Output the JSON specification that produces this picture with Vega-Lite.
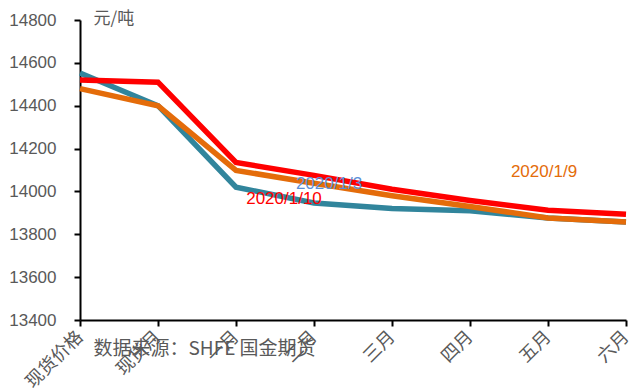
{
  "$schema": "https://vega.github.io/schema/vega-lite/v6.json",
  "width": 546,
  "height": 300,
  "autosize": "none",
  "padding": {"left": 80, "top": 20, "right": 4, "bottom": 72},
  "background": "white",
  "config": {"view": {"stroke": null}, "font": "Liberation Sans, Noto Sans CJK SC"},
  "datasets": {
    "series": [
      {"cat": "现货价格", "s": "2020/1/3", "v": 14553},
      {"cat": "现货月", "s": "2020/1/3", "v": 14400},
      {"cat": "一月", "s": "2020/1/3", "v": 14020},
      {"cat": "二月", "s": "2020/1/3", "v": 13946},
      {"cat": "三月", "s": "2020/1/3", "v": 13920},
      {"cat": "四月", "s": "2020/1/3", "v": 13910},
      {"cat": "五月", "s": "2020/1/3", "v": 13876},
      {"cat": "六月", "s": "2020/1/3", "v": 13857},
      {"cat": "现货价格", "s": "2020/1/9", "v": 14480},
      {"cat": "现货月", "s": "2020/1/9", "v": 14400},
      {"cat": "一月", "s": "2020/1/9", "v": 14098},
      {"cat": "二月", "s": "2020/1/9", "v": 14038},
      {"cat": "三月", "s": "2020/1/9", "v": 13980},
      {"cat": "四月", "s": "2020/1/9", "v": 13930},
      {"cat": "五月", "s": "2020/1/9", "v": 13876},
      {"cat": "六月", "s": "2020/1/9", "v": 13857},
      {"cat": "现货价格", "s": "2020/1/10", "v": 14520},
      {"cat": "现货月", "s": "2020/1/10", "v": 14510},
      {"cat": "一月", "s": "2020/1/10", "v": 14135},
      {"cat": "二月", "s": "2020/1/10", "v": 14075},
      {"cat": "三月", "s": "2020/1/10", "v": 14010},
      {"cat": "四月", "s": "2020/1/10", "v": 13958},
      {"cat": "五月", "s": "2020/1/10", "v": 13912},
      {"cat": "六月", "s": "2020/1/10", "v": 13893}
    ]
  },
  "layer": [
    {
      "data": {"name": "series"},
      "mark": {"type": "line", "strokeWidth": 5.5, "strokeJoin": "miter"},
      "encoding": {
        "x": {
          "field": "cat", "type": "ordinal",
          "sort": ["现货价格", "现货月", "一月", "二月", "三月", "四月", "五月", "六月"],
          "scale": {"type": "point", "padding": 0},
          "axis": {
            "title": "数据来源：SHFE 国金期货",
            "titleX": 13, "titleY": 28, "titleAlign": "left", "titleBaseline": "middle",
            "titleFont": "Noto Sans CJK SC", "titleFontSize": 19, "titleFontWeight": "normal", "titleColor": "#595959",
            "labelAngle": -45, "labelAlign": "right", "labelBaseline": "middle",
            "labelFont": "Noto Sans CJK SC", "labelFontSize": 18, "labelColor": "#595959",
            "labelPadding": 8,
            "domainColor": "black", "domainWidth": 2, "tickColor": "black", "tickWidth": 2, "tickSize": 6, "grid": false
          }
        },
        "y": {
          "field": "v", "type": "quantitative",
          "scale": {"domain": [13400, 14800], "nice": false, "zero": false},
          "axis": {
            "values": [13400, 13600, 13800, 14000, 14200, 14400, 14600, 14800],
            "format": "d",
            "title": "元/吨", "titleAngle": 0, "titleX": 13, "titleY": -10, "titleAlign": "left", "titleBaseline": "top",
            "titleFont": "Noto Sans CJK SC", "titleFontSize": 17, "titleFontWeight": "normal", "titleColor": "#595959",
            "labelFontSize": 17, "labelColor": "#595959", "labelPadding": 18,
            "domainColor": "black", "domainWidth": 2, "tickColor": "black", "tickWidth": 2, "tickSize": 6, "grid": false
          }
        },
        "color": {
          "field": "s", "type": "nominal",
          "scale": {"domain": ["2020/1/3", "2020/1/9", "2020/1/10"], "range": ["#31859C", "#E46C0A", "#FF0000"]},
          "legend": null
        },
        "order": {"field": "s", "sort": "ascending"}
      }
    },
    {
      "data": {"values": [{"cat": "一月", "s": "2020/1/10", "v": 13966}]},
      "mark": {"type": "text", "fontSize": 17, "font": "Liberation Sans", "align": "center", "baseline": "middle", "dx": 48, "color": "#FF0000"},
      "encoding": {
        "x": {"field": "cat", "type": "ordinal", "sort": ["现货价格", "现货月", "一月", "二月", "三月", "四月", "五月", "六月"]},
        "y": {"field": "v", "type": "quantitative"},
        "text": {"field": "s"}
      }
    },
    {
      "data": {"values": [{"cat": "二月", "s": "2020/1/3", "v": 14037}]},
      "mark": {"type": "text", "fontSize": 17, "font": "Liberation Sans", "align": "center", "baseline": "middle", "dx": 15, "color": "#5B8FD8"},
      "encoding": {
        "x": {"field": "cat", "type": "ordinal", "sort": ["现货价格", "现货月", "一月", "二月", "三月", "四月", "五月", "六月"]},
        "y": {"field": "v", "type": "quantitative"},
        "text": {"field": "s"}
      }
    },
    {
      "data": {"values": [{"cat": "五月", "s": "2020/1/9", "v": 14093}]},
      "mark": {"type": "text", "fontSize": 17, "font": "Liberation Sans", "align": "center", "baseline": "middle", "dx": -4, "color": "#E46C0A"},
      "encoding": {
        "x": {"field": "cat", "type": "ordinal", "sort": ["现货价格", "现货月", "一月", "二月", "三月", "四月", "五月", "六月"]},
        "y": {"field": "v", "type": "quantitative"},
        "text": {"field": "s"}
      }
    }
  ]
}
